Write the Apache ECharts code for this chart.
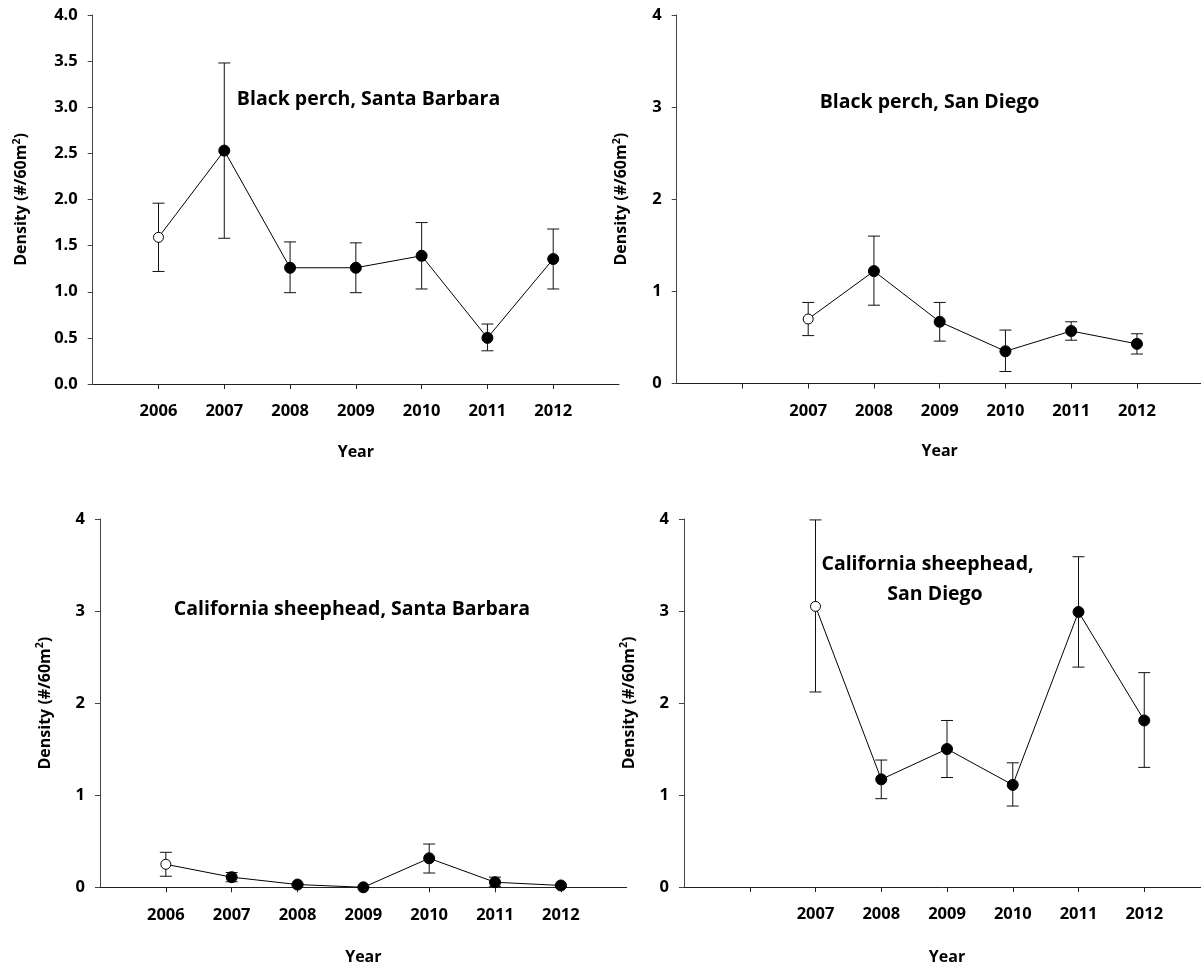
<!DOCTYPE html>
<html>
<head>
<meta charset="utf-8">
<title>Fish density by year</title>
<script src="https://cdn.jsdelivr.net/npm/echarts@6/dist/echarts.min.js"></script>
<style>
  html, body { margin: 0; padding: 0; background: #fff; }
  #chart { width: 1201px; height: 967px; }
</style>
</head>
<body>
<div id="chart"></div>
<script>
// ---- data (density, #/60 m^2; mean with upper / lower error-bar ends) ----
const yearsSB = [2006, 2007, 2008, 2009, 2010, 2011, 2012];
const yearsSD = [2007, 2008, 2009, 2010, 2011, 2012];

const blackPerchSBMean  = [1.59, 2.53, 1.26, 1.26, 1.39, 0.50, 1.355];
const blackPerchSBUpper = [1.96, 3.48, 1.54, 1.53, 1.75, 0.65, 1.68];
const blackPerchSBLower = [1.22, 1.58, 0.99, 0.99, 1.03, 0.36, 1.03];

const blackPerchSDMean  = [0.70, 1.22, 0.67, 0.35, 0.57, 0.43];
const blackPerchSDUpper = [0.88, 1.60, 0.88, 0.58, 0.67, 0.54];
const blackPerchSDLower = [0.52, 0.85, 0.46, 0.13, 0.47, 0.32];

const sheepheadSBMean  = [0.25, 0.11, 0.03, 0.00, 0.315, 0.055, 0.02];
const sheepheadSBUpper = [0.38, 0.16, 0.04, 0.00, 0.47, 0.11, 0.03];
const sheepheadSBLower = [0.12, 0.06, 0.02, 0.00, 0.155, 0.01, 0.01];

const sheepheadSDMean  = [3.05, 1.17, 1.50, 1.11, 2.99, 1.81];
const sheepheadSDUpper = [3.99, 1.38, 1.81, 1.35, 3.59, 2.33];
const sheepheadSDLower = [2.12, 0.96, 1.19, 0.88, 2.39, 1.30];

// tick positions on the year axes
const yearTicks = [2006, 2007, 2008, 2009, 2010, 2011, 2012];

const panelTitles = [
  ['Black perch, Santa Barbara'],
  ['Black perch, San Diego'],
  ['California sheephead, Santa Barbara'],
  ['California sheephead,', 'San Diego']
];

const xAxisTitle = 'Year';
const yAxisTitle = 'Density (#/60m{sup|2})';

// ---- panels ----
const panels = [
  { years: yearsSB, mean: blackPerchSBMean, upper: blackPerchSBUpper, lower: blackPerchSBLower,
    grid: { left: 92.7, top: 15, width: 526.3, height: 369 },
    yInterval: 0.5, yDecimals: 1, yNameGap: 61, xNameGap: 60,
    titlePos: [[368.5, 99]] },
  { years: yearsSD, mean: blackPerchSDMean, upper: blackPerchSDUpper, lower: blackPerchSDLower,
    grid: { left: 676.7, top: 15, width: 526, height: 368.5 },
    yInterval: 1, yDecimals: 0, yNameGap: 45, xNameGap: 60,
    titlePos: [[929.5, 102]] },
  { years: yearsSB, mean: sheepheadSBMean, upper: sheepheadSBUpper, lower: sheepheadSBLower,
    grid: { left: 100, top: 519, width: 526.7, height: 368.3 },
    yInterval: 1, yDecimals: 0, yNameGap: 45, xNameGap: 62,
    titlePos: [[352, 609]] },
  { years: yearsSD, mean: sheepheadSDMean, upper: sheepheadSDUpper, lower: sheepheadSDLower,
    grid: { left: 684, top: 519, width: 526, height: 368 },
    yInterval: 1, yDecimals: 0, yNameGap: 45, xNameGap: 62,
    titlePos: [[927.5, 564], [935, 594]] }
];

const FONT = '"Open Sans", "Noto Sans", sans-serif';
const AXIS_COLOR = '#222';

const grids = [], xAxes = [], yAxes = [], series = [], graphics = [];

panels.forEach((p, i) => {
  grids.push(Object.assign({ containLabel: false, outerBoundsMode: 'none' }, p.grid));

  xAxes.push({
    type: 'value', gridIndex: i, min: 2005, max: 2013, interval: 1,
    name: xAxisTitle, nameLocation: 'middle', nameGap: p.xNameGap,
    nameTextStyle: { fontFamily: FONT, fontWeight: 'bold', fontSize: 16, color: '#000' },
    axisLine: { show: true, onZero: false, lineStyle: { color: AXIS_COLOR, width: 1 } },
    axisTick: { show: true, length: 5, inside: false, customValues: yearTicks,
                lineStyle: { color: AXIS_COLOR, width: 1 } },
    axisLabel: { show: true, customValues: p.years, margin: 19,
                 fontFamily: FONT, fontWeight: 'bold', fontSize: 16.5, color: '#000',
                 formatter: v => String(v) },
    splitLine: { show: false }
  });

  yAxes.push({
    type: 'value', gridIndex: i, min: 0, max: 4, interval: p.yInterval,
    name: yAxisTitle, nameLocation: 'middle', nameGap: p.yNameGap,
    nameTextStyle: { fontFamily: FONT, fontWeight: 'bold', fontSize: 16, color: '#000',
      rich: { sup: { fontFamily: FONT, fontWeight: 'bold', fontSize: 10.5, color: '#000',
                     verticalAlign: 'top', padding: [0, 0, 9, 0] } } },
    axisLine: { show: true, onZero: false, lineStyle: { color: '#444', width: 1 } },
    axisTick: { show: true, length: 5, inside: false, lineStyle: { color: '#444', width: 1 } },
    axisLabel: { margin: 15, fontFamily: FONT, fontWeight: 'bold', fontSize: 16.5, color: '#000',
                 formatter: v => v.toFixed(p.yDecimals) },
    splitLine: { show: false }
  });

  // error bars: vertical whisker with caps
  series.push({
    type: 'custom', xAxisIndex: i, yAxisIndex: i, z: 2, silent: true,
    encode: { x: 0, y: [1, 2] },
    data: p.years.map((yr, k) => [yr, p.lower[k], p.upper[k]]),
    renderItem: (params, api) => {
      const lo = api.coord([api.value(0), api.value(1)]);
      const hi = api.coord([api.value(0), api.value(2)]);
      const half = 6;
      const st = { stroke: '#111', lineWidth: 1 };
      return {
        type: 'group',
        children: [
          { type: 'line', shape: { x1: lo[0], y1: lo[1], x2: hi[0], y2: hi[1] }, style: st },
          { type: 'line', shape: { x1: lo[0] - half, y1: lo[1], x2: lo[0] + half, y2: lo[1] }, style: st },
          { type: 'line', shape: { x1: hi[0] - half, y1: hi[1], x2: hi[0] + half, y2: hi[1] }, style: st }
        ]
      };
    }
  });

  // means: line with markers, first survey year drawn as an open circle
  series.push({
    type: 'line', xAxisIndex: i, yAxisIndex: i, z: 3, silent: true,
    symbol: 'circle', symbolSize: 11,
    lineStyle: { color: '#000', width: 1 },
    itemStyle: { color: '#000', borderColor: '#000', borderWidth: 1 },
    data: p.years.map((yr, k) => k === 0
      ? { value: [yr, p.mean[k]], symbolSize: 10,
          itemStyle: { color: '#fff', borderColor: '#000', borderWidth: 1 } }
      : { value: [yr, p.mean[k]] }),
    animation: false
  });

  panelTitles[i].forEach((line, j) => {
    graphics.push({
      type: 'text', x: p.titlePos[j][0], y: p.titlePos[j][1],
      style: { text: line, fill: '#000', font: 'bold 19.5px ' + FONT,
               textAlign: 'center', textVerticalAlign: 'middle' }
    });
  });
});

const chart = echarts.init(document.getElementById('chart'), null, { renderer: 'canvas' });
chart.setOption({
  backgroundColor: '#fff',
  animation: false,
  grid: grids,
  xAxis: xAxes,
  yAxis: yAxes,
  series: series,
  graphic: graphics
});
</script>
</body>
</html>
